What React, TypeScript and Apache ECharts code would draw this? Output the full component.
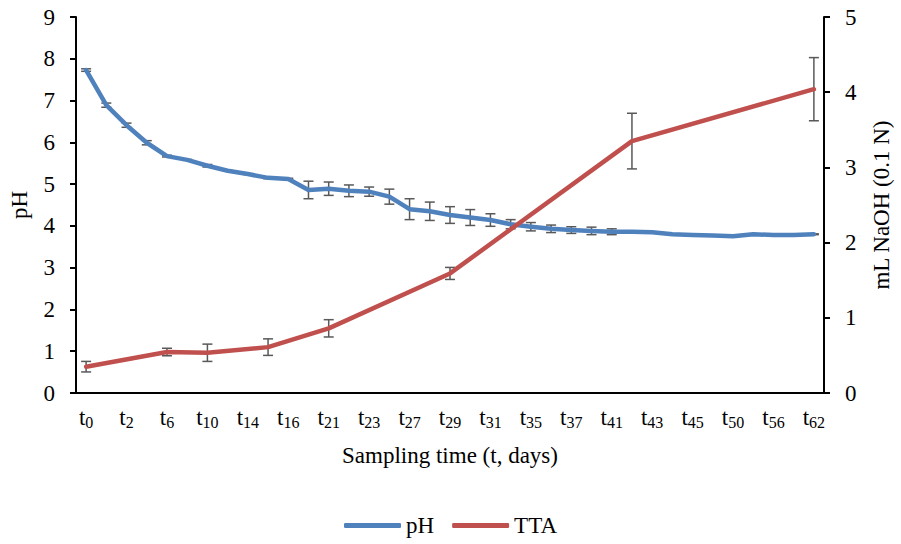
import React, { useEffect, useRef } from "react";
import * as echarts from "echarts";

// Labelled sampling times (every other sampling point carries a label)
const tickLabels = ["t0", "t2", "t6", "t10", "t14", "t16", "t21", "t23", "t27", "t29", "t31", "t35", "t37", "t41", "t43", "t45", "t50", "t56", "t62"];

// pH at each of the 37 sampling points
const phValues = [7.73, 6.89, 6.41, 5.99, 5.67, 5.58, 5.44, 5.32, 5.24, 5.15, 5.12, 4.86, 4.89, 4.84, 4.82, 4.70, 4.40, 4.35, 4.26, 4.20, 4.14, 4.04, 3.98, 3.93, 3.90, 3.88, 3.86, 3.86, 3.85, 3.80, 3.78, 3.77, 3.75, 3.80, 3.78, 3.78, 3.80];
const phErrors = [0.03, 0.05, 0.05, 0.05, 0.02, 0.01, 0.03, 0.01, 0.01, 0.02, 0.02, 0.21, 0.16, 0.14, 0.11, 0.18, 0.25, 0.22, 0.20, 0.19, 0.15, 0.11, 0.10, 0.09, 0.08, 0.09, 0.07, 0.02, 0.01, 0.01, 0.01, 0.01, 0.01, 0.01, 0.01, 0.01, 0.01];

// TTA (mL NaOH 0.1 N), measured at fewer sampling points (index into the 37 points)
const ttaIndex = [0, 4, 6, 9, 12, 18, 27, 36];
const ttaValues = [0.35, 0.545, 0.535, 0.61, 0.86, 1.59, 3.35, 4.04];
const ttaErrors = [0.07, 0.05, 0.115, 0.11, 0.115, 0.08, 0.37, 0.42];

const FONT = '"Liberation Serif", "Times New Roman", serif';
const FS = 23;
const BLUE = "#4F81BD";
const RED = "#C0504D";
const ERR = "#595959";

export default function App() {
  const ref = useRef<HTMLDivElement>(null);

  useEffect(() => {
    if (!ref.current) return;
    const chart = echarts.init(ref.current, undefined, { renderer: "svg" });

    const n = phValues.length;
    const categories: string[] = [];
    for (let i = 0; i < n; i++) categories.push(i % 2 === 0 ? tickLabels[i / 2] : "");

    const ttaSeries: (number | null)[] = new Array(n).fill(null);
    ttaIndex.forEach((idx, k) => (ttaSeries[idx] = ttaValues[k]));

    const phErrData = phValues.map((v, i) => [i, v - phErrors[i], v + phErrors[i]]);
    const ttaErrData = ttaIndex.map((idx, k) => [idx, ttaValues[k] - ttaErrors[k], ttaValues[k] + ttaErrors[k]]);

    const errRender = (params: any, api: any) => {
      const x = api.value(0);
      const p1 = api.coord([x, api.value(1)]);
      const p2 = api.coord([x, api.value(2)]);
      const w = 5;
      const st = { stroke: ERR, lineWidth: 1.5 };
      return {
        type: "group",
        children: [
          { type: "line", shape: { x1: p1[0], y1: p1[1], x2: p2[0], y2: p2[1] }, style: st },
          { type: "line", shape: { x1: p1[0] - w, y1: p1[1], x2: p1[0] + w, y2: p1[1] }, style: st },
          { type: "line", shape: { x1: p2[0] - w, y1: p2[1], x2: p2[0] + w, y2: p2[1] }, style: st },
        ],
      };
    };

    const axisLine = { show: true, lineStyle: { color: "#000", width: 2 } };
    const yTick = { show: true, inside: false, length: 6, lineStyle: { color: "#000", width: 2 } };

    chart.setOption({
      animation: false,
      textStyle: { fontFamily: FONT },
      grid: { left: 73, right: 70, top: 17, bottom: 151, containLabel: false },
      legend: {
        data: ["pH", "TTA"],
        top: 509,
        left: "center",
        icon: "roundRect",
        itemWidth: 57,
        itemHeight: 5,
        itemGap: 18,
        textStyle: { fontFamily: FONT, fontSize: FS, color: "#000" },
      },
      xAxis: {
        type: "category",
        data: categories,
        boundaryGap: true,
        axisLine,
        axisTick: { show: false },
        axisLabel: {
          interval: 1,
          margin: 13,
          formatter: (v: string) => (v ? `{t|t}{s|${v.slice(1)}}` : ""),
          rich: {
            t: { fontFamily: FONT, fontSize: FS, color: "#000", lineHeight: 24, verticalAlign: "top" },
            s: { fontFamily: FONT, fontSize: 16, color: "#000", lineHeight: 16, verticalAlign: "bottom", padding: [11, 0, 0, 0] },
          },
        },
        name: "Sampling time (t, days)",
        nameLocation: "middle",
        nameGap: 51,
        nameTextStyle: { fontFamily: FONT, fontSize: FS, color: "#000" },
      },
      yAxis: [
        {
          type: "value",
          min: 0,
          max: 9,
          interval: 1,
          axisLine,
          axisTick: yTick,
          splitLine: { show: false },
          axisLabel: { margin: 21, fontFamily: FONT, fontSize: FS, color: "#000" },
          name: "pH",
          nameLocation: "middle",
          nameRotate: 90,
          nameGap: 45,
          nameTextStyle: { fontFamily: FONT, fontSize: FS, color: "#000" },
        },
        {
          type: "value",
          min: 0,
          max: 5,
          interval: 1,
          position: "right",
          axisLine,
          axisTick: yTick,
          splitLine: { show: false },
          axisLabel: { margin: 21, fontFamily: FONT, fontSize: FS, color: "#000" },
          name: "mL NaOH (0.1 N)",
          nameLocation: "middle",
          nameRotate: 90,
          nameGap: 46,
          nameTextStyle: { fontFamily: FONT, fontSize: FS, color: "#000" },
        },
      ],
      series: [
        {
          type: "custom",
          name: "pH err",
          yAxisIndex: 0,
          data: phErrData,
          renderItem: errRender,
          z: 1,
          silent: true,
        },
        {
          type: "custom",
          name: "TTA err",
          yAxisIndex: 1,
          data: ttaErrData,
          renderItem: errRender,
          z: 1,
          silent: true,
        },
        {
          type: "line",
          name: "pH",
          yAxisIndex: 0,
          data: phValues,
          symbol: "none",
          lineStyle: { color: BLUE, width: 4.5, cap: "round", join: "round" },
          itemStyle: { color: BLUE },
          z: 3,
        },
        {
          type: "line",
          name: "TTA",
          yAxisIndex: 1,
          data: ttaSeries,
          connectNulls: true,
          symbol: "none",
          lineStyle: { color: RED, width: 4.5, cap: "round", join: "round" },
          itemStyle: { color: RED },
          z: 3,
        },
      ],
    });

    return () => chart.dispose();
  }, []);

  return <div ref={ref} style={{ width: 901, height: 544, position: "absolute", left: 0, top: 0 }} />;
}
